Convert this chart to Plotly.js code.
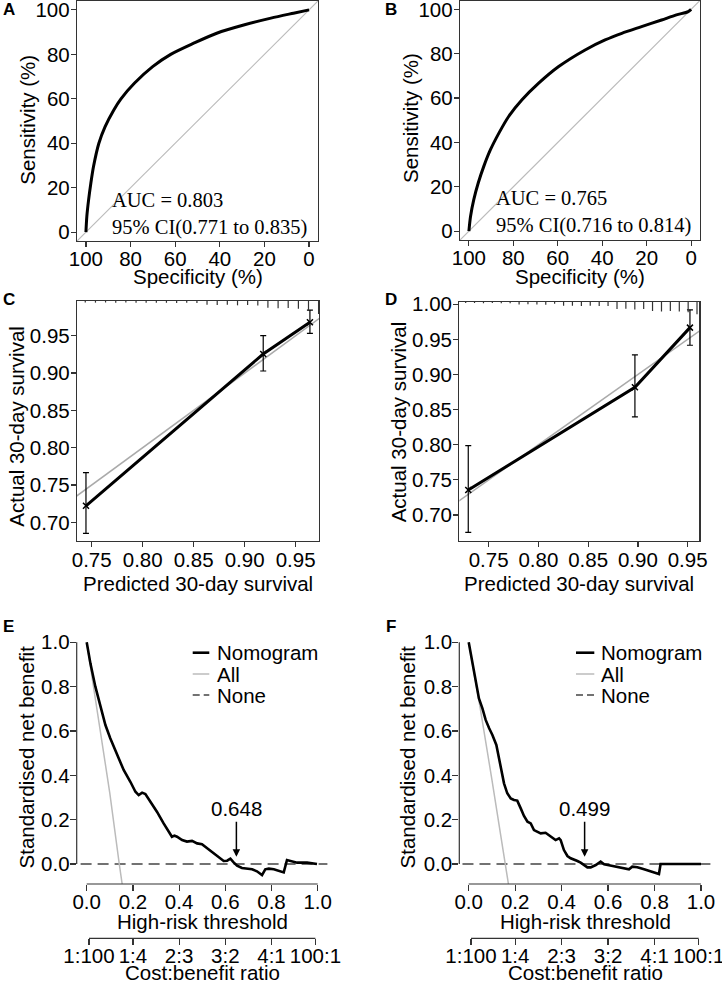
<!DOCTYPE html>
<html><head><meta charset="utf-8">
<script src="https://cdn.plot.ly/plotly-3.0.1.min.js"></script>
<style>html,body{margin:0;padding:0;background:#fff}#chart{width:722px;height:984px}</style>
</head><body><div id="chart"></div>
<script>
// ---------- DATA ----------
// ROC A
const rocA_spec = [100, 99.6, 98.8, 97.8, 96.6, 94.2, 91.4, 87.5, 84.3, 78.3, 70.1, 62.0, 51.7, 41.4, 28.9, 17.1, 7.0, 0];
const rocA_sens = [0, 7.0, 14.5, 22.0, 29.5, 40.0, 47.5, 55.0, 60.0, 67.0, 74.5, 80.0, 85.0, 89.5, 93.3, 96.3, 98.5, 100];
// ROC B
const rocB_spec = [100, 99.25, 97.8, 95.8, 93.3, 90.3, 86.5, 82.1, 76.1, 68.6, 59.6, 47.7, 38.7, 31.2, 22.3, 13.3, 6.6, 1.3, 0];
const rocB_sens = [0, 6.7, 14.2, 21.7, 29.2, 36.7, 44.2, 51.7, 59.2, 66.7, 74.2, 81.7, 86.2, 89.2, 92.2, 95.2, 97.5, 99.0, 100];
const rocTicks = [0, 20, 40, 60, 80, 100];
const diagSpec = [110, -10];
const diagSens = [-10, 110];
const aucTextA = ["AUC = 0.803", "95% CI(0.771 to 0.835)"];
const aucTextB = ["AUC = 0.765", "95% CI(0.716 to 0.814)"];

// Calibration C
const calC_pred = [0.7444, 0.9182, 0.9640];
const calC_obs  = [0.7222, 0.9255, 0.9680];
const calC_lo   = [0.6853, 0.9027, 0.9532];
const calC_hi   = [0.7665, 0.9500, 0.9844];
const rugC_x = [0.7437,0.7537,0.7636,0.7736,0.7835,0.7935,0.8034,0.8134,0.8233,0.8333,0.8432,0.8532,0.8631,0.8731,0.8830,0.8930,0.9029,0.9129,0.9228,0.9328,0.9427,0.9527,0.9626,0.9725];
const rugC_h = [0.0020,0.0022,0.0020,0.0022,0.0020,0.0024,0.0022,0.0022,0.0024,0.0026,0.0022,0.0026,0.0050,0.0054,0.0050,0.0058,0.0054,0.0060,0.0090,0.0098,0.0094,0.0104,0.0134,0.0175];
const calTicksC_x = [0.75, 0.80, 0.85, 0.90, 0.95];
const calTicksC_y = [0.70, 0.75, 0.80, 0.85, 0.90, 0.95];

// Calibration D
const calD_pred = [0.7295, 0.8970, 0.9523];
const calD_obs  = [0.7356, 0.8819, 0.9668];
const calD_lo   = [0.6753, 0.8396, 0.9417];
const calD_hi   = [0.7987, 0.9280, 0.9920];
const rugD_x = [0.7269,0.7358,0.7448,0.7537,0.7627,0.7716,0.7806,0.7895,0.7985,0.8074,0.8163,0.8253,0.8342,0.8432,0.8521,0.8611,0.8700,0.8790,0.8879,0.8969,0.9058,0.9147,0.9237,0.9326,0.9416,0.9505,0.9594];
const rugD_h = [0.0019,0.0019,0.0021,0.0019,0.0021,0.0021,0.0040,0.0038,0.0040,0.0042,0.0030,0.0057,0.0057,0.0060,0.0057,0.0062,0.0060,0.0104,0.0100,0.0110,0.0104,0.0133,0.0138,0.0133,0.0140,0.0150,0.0180];
const calTicksD_x = [0.75, 0.80, 0.85, 0.90, 0.95];
const calTicksD_y = [0.70, 0.75, 0.80, 0.85, 0.90, 0.95, 1.00];
const idealLine = [0.5, 1.1];

// Decision curve E
const dcE_t  = [0, 0.016, 0.0375, 0.059, 0.081, 0.102, 0.131, 0.160, 0.189, 0.211, 0.225, 0.240, 0.254, 0.276, 0.304, 0.333, 0.355, 0.369, 0.380, 0.391, 0.413, 0.434, 0.456, 0.478, 0.499, 0.521, 0.543, 0.564, 0.593, 0.608, 0.622, 0.636, 0.651, 0.672, 0.694, 0.716, 0.737, 0.759, 0.773, 0.788, 0.810, 0.831, 0.853, 0.867, 0.889, 0.911, 0.954, 0.975, 0.997];
const dcE_nb = [1.0, 0.905, 0.80, 0.71, 0.627, 0.567, 0.499, 0.424, 0.371, 0.326, 0.311, 0.322, 0.316, 0.281, 0.236, 0.183, 0.146, 0.123, 0.128, 0.123, 0.108, 0.101, 0.104, 0.093, 0.089, 0.071, 0.051, 0.033, 0.0135, 0.015, 0.024, 0.0075, -0.0075, -0.018, -0.021, -0.024, -0.033, -0.050, -0.024, -0.021, -0.024, -0.030, -0.038, 0.018, 0.0135, 0.006, 0.006, 0.003, 0.0];
const dcE_allT  = [0, 0.05, 0.10, 0.141, 0.17];
const dcE_allNB = [1.0, 0.67, 0.32, 0.0, -0.21];
const thresholdE = 0.648;

// Decision curve F
const dcF_t  = [0, 0.016, 0.030, 0.044, 0.059, 0.073, 0.088, 0.102, 0.119, 0.131, 0.141, 0.152, 0.166, 0.181, 0.195, 0.209, 0.224, 0.238, 0.253, 0.267, 0.281, 0.296, 0.310, 0.331, 0.353, 0.374, 0.389, 0.396, 0.410, 0.425, 0.439, 0.453, 0.468, 0.482, 0.496, 0.511, 0.525, 0.547, 0.568, 0.583, 0.604, 0.633, 0.661, 0.690, 0.704, 0.726, 0.755, 0.783, 0.819, 0.826, 1.0];
const dcF_nb = [1.0, 0.905, 0.815, 0.747, 0.702, 0.650, 0.612, 0.582, 0.537, 0.469, 0.409, 0.364, 0.319, 0.296, 0.289, 0.286, 0.251, 0.217, 0.191, 0.183, 0.153, 0.146, 0.138, 0.141, 0.123, 0.108, 0.116, 0.108, 0.063, 0.036, 0.026, 0.021, 0.0135, 0.006, -0.0045, -0.015, -0.015, -0.0045, 0.0105, -0.0015, -0.006, -0.012, -0.018, -0.024, -0.012, -0.015, -0.024, -0.033, -0.045, 0.0, 0.0];
const dcF_allT  = [0, 0.05, 0.10, 0.159, 0.18];
const dcF_allNB = [1.0, 0.70, 0.38, 0.0, -0.15];
const thresholdF = 0.499;

const noneT  = [-0.1, 1.1];
const noneNB = [0, 0];
const dcTicks = [0, 0.2, 0.4, 0.6, 0.8, 1.0];
const costT      = [0.0099, 0.2, 0.4, 0.6, 0.8, 0.990];
const costLabels = ["1:100", "1:4", "2:3", "3:2", "4:1", "100:1"];
const legendNames = ["Nomogram", "All", "None"];

// ---------- LAYOUT HELPERS ----------
const W = 722, H = 984;
const px = x => x / W;
const py = y => 1 - y / H;
const SANS = "Liberation Sans, Arial, sans-serif";
const SERIF = "Liberation Serif, Times New Roman, serif";
const FS = 20.5;
const AXC = '#333';

const boxAxis = {
  showline: true, linecolor: AXC, linewidth: 1.2, mirror: true,
  ticks: 'outside', ticklen: 5, tickwidth: 1.2, tickcolor: AXC,
  showgrid: false, zeroline: false, fixedrange: true, ticklabeloverflow: 'allow',
  tickfont: {family: SANS, size: FS, color: '#000'}
};
const openAxis = {
  showline: false, ticks: 'outside', ticklen: 6, tickwidth: 1.2, tickcolor: AXC,
  showgrid: false, zeroline: false, fixedrange: true, ticklabeloverflow: 'allow',
  tickfont: {family: SANS, size: FS, color: '#000'}
};
const XSO = -6, YSO = -3;

function rugTrace(xs, hs, top, xa, ya) {
  const X = [], Y = [];
  xs.forEach((x, i) => { X.push(x, x, null); Y.push(top, top - hs[i], null); });
  return {x: X, y: Y, xaxis: xa, yaxis: ya, mode: 'lines', line: {color: AXC, width: 1.2},
          showlegend: false, hoverinfo: 'skip'};
}
function calTraces(pred, obs, lo, hi, xa, ya) {
  return [
    {x: idealLine, y: idealLine, xaxis: xa, yaxis: ya, mode: 'lines', line: {color: '#aaa', width: 1.5}, showlegend: false, hoverinfo: 'skip'},
    {x: pred, y: obs, xaxis: xa, yaxis: ya, mode: 'lines+markers',
     line: {color: '#000', width: 3},
     marker: {symbol: 'x-thin-open', size: 6, color: '#000', line: {width: 1.5, color: '#000'}},
     error_y: {type: 'data', symmetric: false,
               array: hi.map((h, i) => h - obs[i]), arrayminus: lo.map((l, i) => obs[i] - l),
               color: '#000', thickness: 1.2, width: 3},
     showlegend: false}
  ];
}

const CRANGE_Y = [0.675, 0.9965];
const DRANGE_Y = [0.6634, 1.0037];

const dcStyles = {
  None: {color: '#444', width: 1.5, dash: '11px,6px'},
  All: {color: '#bbb', width: 1.5},
  Nomogram: {color: '#000', width: 2.6}
};

const traces = [
  // A
  {x: diagSpec, y: diagSens, xaxis: 'x', yaxis: 'y', mode: 'lines', line: {color: '#bbb', width: 1.2}, showlegend: false, hoverinfo: 'skip'},
  {x: rocA_spec, y: rocA_sens, xaxis: 'x', yaxis: 'y', mode: 'lines', line: {color: '#000', width: 3, shape: 'spline', smoothing: 0.8}, showlegend: false},
  // B
  {x: diagSpec, y: diagSens, xaxis: 'x2', yaxis: 'y2', mode: 'lines', line: {color: '#bbb', width: 1.2}, showlegend: false, hoverinfo: 'skip'},
  {x: rocB_spec, y: rocB_sens, xaxis: 'x2', yaxis: 'y2', mode: 'lines', line: {color: '#000', width: 3, shape: 'spline', smoothing: 0.8}, showlegend: false},
  // C
  ...calTraces(calC_pred, calC_obs, calC_lo, calC_hi, 'x3', 'y3'),
  rugTrace(rugC_x, rugC_h, CRANGE_Y[1], 'x3', 'y3'),
  // D
  ...calTraces(calD_pred, calD_obs, calD_lo, calD_hi, 'x4', 'y4'),
  rugTrace(rugD_x, rugD_h, DRANGE_Y[1], 'x4', 'y4'),
  // E
  {x: noneT, y: noneNB, xaxis: 'x5', yaxis: 'y5', mode: 'lines', name: 'None', line: dcStyles.None, showlegend: false},
  {x: dcE_allT, y: dcE_allNB, xaxis: 'x5', yaxis: 'y5', mode: 'lines', name: 'All', line: dcStyles.All, showlegend: false},
  {x: dcE_t, y: dcE_nb, xaxis: 'x5', yaxis: 'y5', mode: 'lines', name: 'Nomogram', line: dcStyles.Nomogram, showlegend: false},
  {x: costT, y: costT.map(() => 0), xaxis: 'x7', yaxis: 'y5', mode: 'markers', marker: {opacity: 0}, showlegend: false, hoverinfo: 'skip'},
  // F
  {x: noneT, y: noneNB, xaxis: 'x6', yaxis: 'y6', mode: 'lines', name: 'None', line: dcStyles.None, showlegend: false},
  {x: dcF_allT, y: dcF_allNB, xaxis: 'x6', yaxis: 'y6', mode: 'lines', name: 'All', line: dcStyles.All, showlegend: false},
  {x: dcF_t, y: dcF_nb, xaxis: 'x6', yaxis: 'y6', mode: 'lines', name: 'Nomogram', line: dcStyles.Nomogram, showlegend: false},
  {x: costT, y: costT.map(() => 0), xaxis: 'x8', yaxis: 'y6', mode: 'markers', marker: {opacity: 0}, showlegend: false, hoverinfo: 'skip'}
];

const E_X = [76.7, 327.4], F_X = [459.3, 710.4], DC_Y = [884, 633];
const E_RANGE_X = [-0.0433, 1.042], F_RANGE_X = [-0.0405, 1.0405], DC_RANGE_Y = [-0.0902, 1.042];
const COST_Y = 938.3;

function ann(text, x, y, opts) {
  return Object.assign({text: text, x: x, y: y, xref: 'paper', yref: 'paper', showarrow: false,
    xanchor: 'center', yanchor: 'middle', font: {family: SANS, size: FS, color: '#000'}}, opts || {});
}
function panelLabel(t, x, y) {
  return ann('<b>' + t + '</b>', px(x), py(y), {font: {family: SANS, size: 17, color: '#000'}});
}

// manual legends (R style: short sample line, text beside)
const legendRows = [652.7, 674, 695];
function legendItems(sampleX0, sampleX1, textX) {
  const shapes = [], anns = [];
  legendNames.forEach((nm, i) => {
    const st = dcStyles[nm];
    shapes.push({type: 'line', xref: 'paper', yref: 'paper', x0: px(sampleX0), x1: px(sampleX1),
      y0: py(legendRows[i]), y1: py(legendRows[i]), line: {color: st.color, width: st.width, dash: st.dash ? '7px,4px' : 'solid'}});
    anns.push(ann(nm, px(textX), py(legendRows[i]), {xanchor: 'left'}));
  });
  return {shapes, anns};
}
const legE = legendItems(192.7, 209.3, 215);
const legF = legendItems(576, 594.3, 598.5);

const layout = {
  width: W, height: H, margin: {l: 0, r: 0, t: 0, b: 0},
  paper_bgcolor: '#fff', plot_bgcolor: 'rgba(0,0,0,0)',
  font: {family: SANS, size: FS, color: '#000'},
  showlegend: false,
  xaxis:  Object.assign({}, boxAxis, {domain: [px(77), px(318)], range: [104, -4], tickvals: rocTicks, anchor: 'y', ticklabelstandoff: XSO}),
  yaxis:  Object.assign({}, boxAxis, {domain: [py(241), py(1)], range: [-4, 104], tickvals: rocTicks, anchor: 'x', ticklabelstandoff: YSO}),
  xaxis2: Object.assign({}, boxAxis, {domain: [px(460), px(700)], range: [104, -4], tickvals: rocTicks, anchor: 'y2', ticklabelstandoff: XSO}),
  yaxis2: Object.assign({}, boxAxis, {domain: [py(240), py(0.5)], range: [-4, 104], tickvals: rocTicks, anchor: 'x2', ticklabelstandoff: YSO}),
  xaxis3: Object.assign({}, boxAxis, {domain: [px(77), px(319)], range: [0.7356, 0.9729], tickvals: calTicksC_x, tickformat: '.2f', anchor: 'y3', ticklabelstandoff: -5}),
  yaxis3: Object.assign({}, boxAxis, {domain: [py(541), py(301)], range: CRANGE_Y, tickvals: calTicksC_y, tickformat: '.2f', anchor: 'x3', ticklabelstandoff: YSO}),
  xaxis4: Object.assign({}, boxAxis, {domain: [px(459.3), px(699.3)], range: [0.7205, 0.9617], tickvals: calTicksD_x, tickformat: '.2f', anchor: 'y4', ticklabelstandoff: -5}),
  yaxis4: Object.assign({}, boxAxis, {domain: [py(540.7), py(301.7)], range: DRANGE_Y, tickvals: calTicksD_y, tickformat: '.2f', anchor: 'x4', ticklabelstandoff: YSO}),
  xaxis5: Object.assign({}, openAxis, {domain: [px(E_X[0]), px(E_X[1])], range: E_RANGE_X, tickvals: dcTicks, tickformat: '.1f', anchor: 'y5', ticklabelstandoff: -7}),
  yaxis5: Object.assign({}, openAxis, {domain: [py(DC_Y[0]), py(DC_Y[1])], range: DC_RANGE_Y, tickvals: dcTicks, tickformat: '.1f', anchor: 'x5', ticklabelstandoff: -4}),
  xaxis6: Object.assign({}, openAxis, {domain: [px(F_X[0]), px(F_X[1])], range: F_RANGE_X, tickvals: dcTicks, tickformat: '.1f', anchor: 'y6', ticklabelstandoff: -7}),
  yaxis6: Object.assign({}, openAxis, {domain: [py(DC_Y[0]), py(DC_Y[1])], range: DC_RANGE_Y, tickvals: dcTicks, tickformat: '.1f', anchor: 'x6', ticklabelstandoff: -4}),
  xaxis7: Object.assign({}, openAxis, {overlaying: 'x5', anchor: 'free', position: py(COST_Y), side: 'bottom', range: E_RANGE_X, tickvals: costT, ticktext: costLabels, ticklabelstandoff: -7}),
  xaxis8: Object.assign({}, openAxis, {overlaying: 'x6', anchor: 'free', position: py(COST_Y), side: 'bottom', range: F_RANGE_X, tickvals: costT, ticktext: costLabels, ticklabelstandoff: -7}),
  shapes: [
    // E axis lines (span 0..1 only, R style)
    {type: 'line', xref: 'x5', yref: 'y5 domain', x0: dcTicks[0], x1: dcTicks[dcTicks.length - 1], y0: 0, y1: 0, line: {color: AXC, width: 1.2}},
    {type: 'line', xref: 'x5 domain', yref: 'y5', x0: 0, x1: 0, y0: dcTicks[0], y1: dcTicks[dcTicks.length - 1], line: {color: AXC, width: 1.2}},
    {type: 'line', xref: 'x5', yref: 'paper', x0: costT[0], x1: costT[costT.length - 1], y0: py(COST_Y), y1: py(COST_Y), line: {color: AXC, width: 1.2}},
    // F axis lines
    {type: 'line', xref: 'x6', yref: 'y6 domain', x0: dcTicks[0], x1: dcTicks[dcTicks.length - 1], y0: 0, y1: 0, line: {color: AXC, width: 1.2}},
    {type: 'line', xref: 'x6 domain', yref: 'y6', x0: 0, x1: 0, y0: dcTicks[0], y1: dcTicks[dcTicks.length - 1], line: {color: AXC, width: 1.2}},
    {type: 'line', xref: 'x6', yref: 'paper', x0: costT[0], x1: costT[costT.length - 1], y0: py(COST_Y), y1: py(COST_Y), line: {color: AXC, width: 1.2}},
    ...legE.shapes, ...legF.shapes
  ],
  annotations: [
    panelLabel('A', 8.5, 9), panelLabel('B', 391, 9), panelLabel('C', 8.5, 299),
    panelLabel('D', 391, 299), panelLabel('E', 8.5, 626), panelLabel('F', 391, 626),
    // axis titles
    ann('Specificity (%)', px(197.5), py(276)),
    ann('Sensitivity (%)', px(26.7), py(120), {textangle: -90}),
    ann('Specificity (%)', px(580), py(276)),
    ann('Sensitivity (%)', px(411), py(118), {textangle: -90}),
    ann('Predicted 30-day survival', px(198), py(583)),
    ann('Actual 30-day survival', px(16.7), py(426), {textangle: -90}),
    ann('Predicted 30-day survival', px(579.3), py(583)),
    ann('Actual 30-day survival', px(398.3), py(422), {textangle: -90}),
    ann('High-risk threshold', px(202.5), py(921.7)),
    ann('Cost:benefit ratio', px(202.5), py(972.5)),
    ann('Standardised net benefit', px(26.7), py(756.7), {textangle: -90}),
    ann('High-risk threshold', px(585), py(921.7)),
    ann('Cost:benefit ratio', px(585), py(972.5)),
    ann('Standardised net benefit', px(407.7), py(756.7), {textangle: -90}),
    ...legE.anns, ...legF.anns,
    // AUC text
    {text: aucTextA.join('<br>'), xref: 'x', yref: 'y', x: 89.1, y: 8.2, xanchor: 'left', yanchor: 'middle', align: 'left', showarrow: false,
     font: {family: SERIF, size: FS, color: '#000'}},
    {text: aucTextB.join('<br>'), xref: 'x2', yref: 'y2', x: 88.7, y: 8.4, xanchor: 'left', yanchor: 'middle', align: 'left', showarrow: false,
     font: {family: SERIF, size: FS, color: '#000'}},
    // threshold arrows
    {text: thresholdE.toFixed(3), xref: 'x5', yref: 'y5', x: thresholdE, y: 0.033, ax: 0, ay: -48, showarrow: true,
     arrowhead: 2, arrowsize: 1, arrowwidth: 1.5, arrowcolor: '#000', font: {family: SANS, size: FS, color: '#000'}},
    {text: thresholdF.toFixed(3), xref: 'x6', yref: 'y6', x: thresholdF, y: 0.033, ax: 0, ay: -48, showarrow: true,
     arrowhead: 2, arrowsize: 1, arrowwidth: 1.5, arrowcolor: '#000', font: {family: SANS, size: FS, color: '#000'}}
  ]
};

Plotly.newPlot('chart', traces, layout, {displayModeBar: false, staticPlot: true});
</script></body></html>
